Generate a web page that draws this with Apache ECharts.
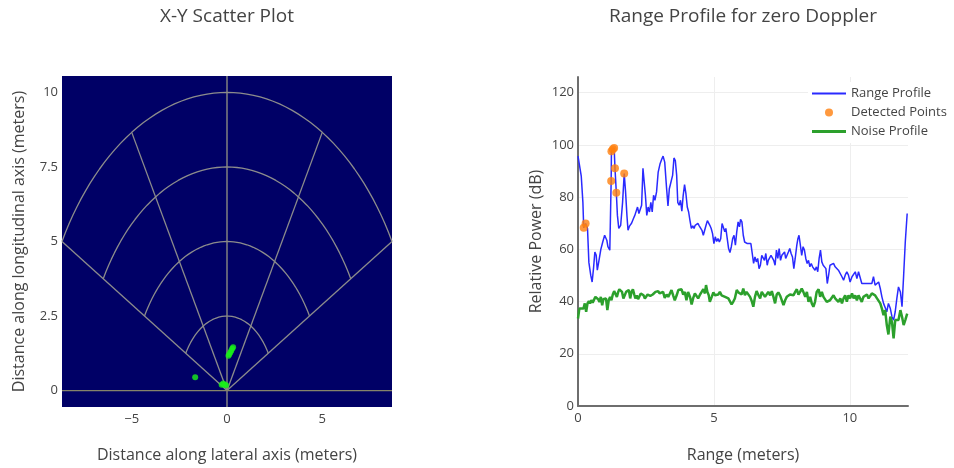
<!DOCTYPE html>
<html>
<head>
<meta charset="utf-8">
<script src="https://cdn.jsdelivr.net/npm/echarts@6/dist/echarts.min.js"></script>
<style>
  html, body { margin: 0; padding: 0; background: #fff; }
  #chart { width: 954px; height: 468px; }
</style>
</head>
<body>
<div id="chart"></div>
<script>
// ---- X-Y scatter: detected object positions (meters) ----
const pointsLateral = [-1.67, -0.28, -0.2, -0.12, -0.05, 0.08, 0.12, 0.17, 0.22, 0.27, 0.32];
const pointsLongitudinal = [0.45, 0.2, 0.24, 0.2, 0.18, 1.17, 1.22, 1.28, 1.34, 1.4, 1.45];

// polar range grid drawn over the sensor field of view
const rangeRings = [2.5, 5, 7.5, 10];
const azimuthSpokes = [-60, -30, 30, 60];
const fovHalfAngle = 60;

const scatterXTicks = [-5, 0, 5];
const scatterYTicks = [0, 2.5, 5, 7.5, 10];

// ---- Range profile for zero Doppler ----
const rangeProfile = [
  [0,95.7],[0.06,95.3],[0.12,88],[0.18,78],[0.21,68.3],[0.28,69.9],[0.35,68],[0.4,55],[0.47,50],[0.52,47.5],
  [0.57,52.6],[0.62,59],[0.67,57.7],[0.71,52],[0.76,55],[0.84,60],[0.91,62.8],[0.98,65.4],[1.06,63.5],[1.1,61],
  [1.17,59.7],[1.22,86.2],[1.23,97.6],[1.28,98.3],[1.33,98.8],[1.36,91.1],[1.41,81.7],[1.45,73],[1.5,68],[1.57,69.2],
  [1.64,78],[1.7,89],[1.75,82],[1.8,73],[1.84,67.3],[1.9,69],[1.97,70],[2.04,71.8],[2.09,73],[2.14,72.4],
  [2.19,76.2],[2.24,73.7],[2.29,74.3],[2.34,76.9],[2.39,91],[2.43,91.5],[2.48,80.7],[2.53,73],[2.58,76.2],[2.63,74.3],
  [2.68,78],[2.73,74.3],[2.78,80.7],[2.83,78.8],[2.89,82],[2.95,89.6],[3.02,92.8],[3.08,94.5],[3.13,95.7],[3.19,93.4],
  [3.26,83.2],[3.31,76.6],[3.36,83.2],[3.43,83.9],[3.48,88.3],[3.53,95],[3.58,94],[3.63,88.3],[3.67,78],[3.72,76.9],
  [3.77,78.8],[3.82,74.6],[3.87,80.7],[3.92,84.8],[3.97,81.3],[4.02,76.2],[4.07,74.3],[4.12,71],[4.17,68],[4.22,69],
  [4.27,68],[4.31,69.2],[4.36,69.5],[4.41,69.9],[4.46,69],[4.51,69.5],[4.56,67.3],[4.61,65.4],[4.66,67.3],[4.71,69.2],
  [4.76,71],[4.81,70.7],[4.85,69.2],[4.9,68],[4.95,66],[5.0,62.2],[5.05,64.8],[5.1,63],[5.15,64.1],[5.2,62.8],
  [5.25,64.1],[5.3,69.9],[5.35,70.2],[5.4,66.7],[5.44,68],[5.49,64.1],[5.54,60.3],[5.59,58.8],[5.64,61],[5.69,64.1],
  [5.74,65.4],[5.79,61.6],[5.84,66.7],[5.89,70.5],[5.94,68.6],[5.98,71.5],[6.03,70.5],[6.08,65.4],[6.13,62.8],[6.18,62.2],
  [6.23,62.2],[6.3,62.6],[6.36,62.2],[6.41,58.4],[6.46,54.6],[6.51,57.1],[6.56,55.2],[6.61,56.5],[6.66,52.6],[6.71,53.9],
  [6.76,57.7],[6.81,57.1],[6.86,55.8],[6.91,58.4],[6.96,53.9],[7.0,55.8],[7.05,56.5],[7.1,57.7],[7.15,58.4],[7.2,55.8],
  [7.25,53.9],[7.3,59.7],[7.35,56.5],[7.4,60.3],[7.45,55.8],[7.5,57.7],[7.55,57.7],[7.6,59],[7.64,56.5],[7.69,57.1],
  [7.74,59],[7.79,60.3],[7.84,58.4],[7.89,57.1],[7.94,52.6],[7.99,56.5],[8.05,61.6],[8.09,64.1],[8.13,65.4],[8.18,61.6],
  [8.23,57.7],[8.28,61],[8.33,59.7],[8.38,56.5],[8.43,54.6],[8.48,55.8],[8.53,53.3],[8.58,54.6],[8.63,53.3],[8.68,52.6],
  [8.72,52],[8.77,53.3],[8.82,51.4],[8.87,56.5],[8.92,59.7],[8.97,55.2],[9.02,53.9],[9.07,53.9],[9.12,52.6],[9.17,46.9],
  [9.22,50.1],[9.27,53.9],[9.34,53.3],[9.4,54.6],[9.46,53.3],[9.52,53.9],[9.58,52],[9.65,51.4],[9.71,49.5],[9.77,48.2],
  [9.83,50.1],[9.89,51.4],[9.95,50.1],[10.01,47.5],[10.08,49.5],[10.14,48.8],[10.2,51.4],[10.26,48.8],[10.32,51.4],[10.38,52],
  [10.44,46.9],[10.5,46.3],[10.57,46.9],[10.63,46.5],[10.69,46.9],[10.75,47.5],[10.81,46.9],[10.87,49.5],[10.93,46.3],[11.0,46.9],
  [11.06,47.5],[11.12,45],[11.18,41.8],[11.24,39.3],[11.3,38.6],[11.36,36.1],[11.42,39.3],[11.49,37.3],[11.55,34.2],[11.61,32.9],
  [11.67,36.1],[11.73,41.2],[11.79,45.6],[11.86,43.7],[11.92,38],[11.98,50.1],[12.04,62.8],[12.11,73.7]
];

const detectedPoints = [
  [0.21,68.3],[0.28,69.9],[1.22,86.2],[1.23,97.6],[1.28,98.3],[1.33,98.8],[1.36,91.1],[1.41,81.7],[1.7,89]
];

const noiseProfile = [
  [0,33.5],[0.05,37.3],[0.12,36.7],[0.2,37.3],[0.25,39.3],[0.3,36.1],[0.35,39.3],[0.4,40.2],[0.44,39.3],[0.49,40.5],
  [0.54,39.6],[0.59,39.9],[0.64,41.8],[0.69,42.4],[0.74,40.9],[0.79,39.9],[0.84,41.8],[0.89,38.6],[0.93,40.9],[0.98,40.2],
  [1.03,41.2],[1.08,36.7],[1.13,40.5],[1.18,41.8],[1.23,40.5],[1.28,42.7],[1.33,44],[1.38,43.7],[1.43,41.8],[1.48,43.7],
  [1.52,44.7],[1.57,45.3],[1.62,43.7],[1.67,41.2],[1.72,42.4],[1.77,43.7],[1.82,43.1],[1.87,44.4],[1.92,41.2],[1.97,43.7],
  [2.02,44.7],[2.07,42.7],[2.11,41.2],[2.16,42.4],[2.21,40.9],[2.26,41.4],[2.31,43.1],[2.36,43.7],[2.41,42.4],[2.46,41.2],
  [2.51,41.4],[2.56,42.7],[2.61,42.4],[2.66,42.2],[2.7,42.7],[2.75,42.7],[2.8,43.1],[2.85,43.7],[2.9,44.4],[2.95,44],
  [3.0,43.1],[3.05,43.7],[3.07,42.7],[3.13,43.7],[3.19,41.4],[3.26,42.7],[3.32,41.8],[3.38,43.1],[3.44,44.4],[3.5,42.4],
  [3.56,40.5],[3.63,42.4],[3.69,44.4],[3.75,44],[3.81,44.7],[3.87,42.7],[3.93,43.7],[3.99,40.5],[4.05,43.7],[4.12,41.8],
  [4.18,38.9],[4.24,41.4],[4.3,43.1],[4.36,42.7],[4.42,41.2],[4.49,42.7],[4.55,43.7],[4.61,44.7],[4.67,43.1],[4.71,46.3],
  [4.76,43.7],[4.81,42.4],[4.85,39.9],[4.92,41.8],[4.98,43.5],[5.04,42.4],[5.1,41.8],[5.16,42.7],[5.22,43.7],[5.28,42.4],
  [5.34,42.7],[5.41,41.8],[5.47,42.4],[5.53,41.2],[5.59,40.5],[5.65,38.9],[5.71,39.9],[5.77,41.2],[5.84,44.4],[5.9,43.5],
  [5.96,43.7],[6.02,42.7],[6.08,45],[6.14,42.4],[6.2,43.7],[6.27,43.7],[6.33,41.8],[6.39,40.2],[6.45,38],[6.51,41.8],
  [6.57,44],[6.64,42.4],[6.7,41.2],[6.76,43.7],[6.82,43.1],[6.88,41.8],[6.94,42.4],[7.0,43.7],[7.07,42.4],[7.13,44],
  [7.19,41.8],[7.25,39.3],[7.31,42.7],[7.37,43.5],[7.44,42.2],[7.5,42.7],[7.56,38.6],[7.62,40.5],[7.68,41.8],[7.74,41.2],
  [7.8,42.7],[7.86,42.2],[7.93,42.4],[7.99,43.7],[8.05,44.7],[8.11,42.7],[8.17,43.7],[8.23,45],[8.29,43.7],[8.36,41.8],
  [8.42,43.7],[8.48,39.9],[8.54,41.8],[8.6,39.3],[8.66,38],[8.72,39.9],[8.78,43.7],[8.85,44.7],[8.91,41.8],[8.97,43.7],
  [9.03,41.8],[9.09,41.2],[9.15,39.9],[9.21,39.3],[9.27,40.5],[9.34,40],[9.4,42.4],[9.46,41.2],[9.52,41.8],[9.58,39.9],
  [9.65,41.2],[9.71,39.3],[9.77,41.2],[9.83,42.4],[9.89,39.9],[9.95,42.4],[10.01,41.2],[10.08,43.1],[10.14,41.2],[10.2,42.4],
  [10.26,40.5],[10.32,42.4],[10.38,41.8],[10.44,39.9],[10.5,41.8],[10.57,41.2],[10.63,42.7],[10.69,41.2],[10.75,41.2],[10.81,43.1],
  [10.87,43.7],[10.93,42.4],[11.0,41.2],[11.06,40.5],[11.12,39.3],[11.18,37.3],[11.24,34.8],[11.3,36.7],[11.36,31],[11.42,27.4],
  [11.49,34.2],[11.55,32.2],[11.61,25.9],[11.67,32.9],[11.73,33.5],[11.79,32.9],[11.86,36.7],[11.92,34.2],[11.98,31],[12.04,32.9],
  [12.11,35.4]
];

const profileXTicks = [0, 5, 10];

// ---- axis extents ----
const scatterXMax = 8.66;
const scatterYMin = -0.55, scatterYMax = 10.55;
const profileXMax = 12.14;
const profileYMax = 126;

const TEXT = '#444';
const FONT = '"Open Sans", "DejaVu Sans", sans-serif';
const GRID_LINE = '#8c8c8c';
const BLUE = '#2a2aff';
const GREEN = '#2ca02c';
const ORANGE = '#ff7f0e';

function deg(a) { return a * Math.PI / 180; }

// arcs and spokes of the field-of-view grid
const polarGridSeries = [];
rangeRings.forEach(function (r) {
  const pts = [];
  for (let a = -fovHalfAngle; a <= fovHalfAngle; a += 2) {
    pts.push([r * Math.sin(deg(a)), r * Math.cos(deg(a))]);
  }
  polarGridSeries.push({
    type: 'line', xAxisIndex: 0, yAxisIndex: 0, data: pts,
    symbol: 'none', silent: true, smooth: false,
    lineStyle: { color: GRID_LINE, width: 1.3 }, z: 1
  });
});
const outerRing = rangeRings[rangeRings.length - 1];
azimuthSpokes.forEach(function (a) {
  polarGridSeries.push({
    type: 'line', xAxisIndex: 0, yAxisIndex: 0,
    data: [[0, 0], [outerRing * Math.sin(deg(a)), outerRing * Math.cos(deg(a))]],
    symbol: 'none', silent: true,
    lineStyle: { color: GRID_LINE, width: 1.3 }, z: 1
  });
});
// zero lines of both axes
polarGridSeries.push({
  type: 'line', xAxisIndex: 0, yAxisIndex: 0,
  data: [[0, scatterYMin], [0, scatterYMax]],
  symbol: 'none', silent: true, lineStyle: { color: '#8a8a82', width: 1.4 }, z: 1
});
polarGridSeries.push({
  type: 'line', xAxisIndex: 0, yAxisIndex: 0,
  data: [[-scatterXMax, 0], [scatterXMax, 0]],
  symbol: 'none', silent: true, lineStyle: { color: '#85836a', width: 1.4 }, z: 1
});

const scatterPoints = pointsLateral.map(function (x, i) { return [x, pointsLongitudinal[i]]; });

function minusFmt(v) { return v < 0 ? '\u2212' + Math.abs(v) : String(v); }

const chart = echarts.init(document.getElementById('chart'), null, { renderer: 'canvas' });

chart.setOption({
  animation: false,
  backgroundColor: '#fff',
  textStyle: { fontFamily: FONT },
  graphic: [
    { type: 'text', x: 227, y: 7, style: { text: 'X-Y Scatter Plot', font: '19px ' + FONT, fill: TEXT, align: 'center', verticalAlign: 'top' } },
    { type: 'text', x: 743, y: 7, style: { text: 'Range Profile for zero Doppler', font: '19px ' + FONT, fill: TEXT, align: 'center', verticalAlign: 'top' } }
  ],
  grid: [
    { left: 62, top: 76, width: 330, height: 331, show: true, backgroundColor: '#000066', borderWidth: 0 },
    { left: 578, top: 77, width: 330, height: 329, show: false }
  ],
  legend: {
    orient: 'vertical', left: 808, top: 82, padding: [4, 6, 4, 4],
    backgroundColor: '#fff', itemWidth: 34, itemHeight: 8, itemGap: 4,
    textStyle: { color: TEXT, fontSize: 13, fontFamily: FONT, lineHeight: 15 },
    data: [
      { name: 'Range Profile', icon: 'path://M0,0h32v2h-32z', itemStyle: { color: BLUE } },
      { name: 'Detected Points', icon: 'circle' },
      { name: 'Noise Profile', icon: 'path://M0,0h32v3h-32z', itemStyle: { color: GREEN } }
    ]
  },
  xAxis: [
    {
      gridIndex: 0, type: 'value', min: -scatterXMax, max: scatterXMax,
      axisLine: { show: false }, axisTick: { show: false }, splitLine: { show: false },
      axisLabel: { customValues: scatterXTicks, formatter: minusFmt, color: TEXT, fontSize: 13, margin: 6 },
      name: 'Distance along lateral axis (meters)', nameLocation: 'middle', nameGap: 40,
      nameTextStyle: { color: TEXT, fontSize: 16 }
    },
    {
      gridIndex: 1, type: 'value', min: 0, max: profileXMax, interval: 5,
      axisLine: { show: true, onZero: false, lineStyle: { color: '#6e6e6e', width: 2 } },
      axisTick: { show: false },
      splitLine: { show: true, showMaxLine: false, lineStyle: { color: '#eeeeee', width: 1 } },
      axisLabel: { customValues: profileXTicks, color: TEXT, fontSize: 13, margin: 6 },
      name: 'Range (meters)', nameLocation: 'middle', nameGap: 41,
      nameTextStyle: { color: TEXT, fontSize: 16 }
    }
  ],
  yAxis: [
    {
      gridIndex: 0, type: 'value', min: scatterYMin, max: scatterYMax,
      axisLine: { show: false }, axisTick: { show: false }, splitLine: { show: false },
      axisLabel: { customValues: scatterYTicks, color: TEXT, fontSize: 13, margin: 4 },
      name: 'Distance along longitudinal axis (meters)', nameLocation: 'middle', nameGap: 35,
      nameTextStyle: { color: TEXT, fontSize: 16 }
    },
    {
      gridIndex: 1, type: 'value', min: 0, max: profileYMax, interval: 20,
      axisLine: { show: true, onZero: false, lineStyle: { color: '#6e6e6e', width: 2 } },
      axisTick: { show: false },
      splitLine: { show: true, showMaxLine: false, lineStyle: { color: '#eeeeee', width: 1 } },
      axisLabel: { showMaxLabel: false, color: TEXT, fontSize: 13, margin: 4 },
      name: 'Relative Power (dB)', nameLocation: 'middle', nameGap: 34,
      nameTextStyle: { color: TEXT, fontSize: 16 }
    }
  ],
  series: polarGridSeries.concat([
    {
      name: 'Detections', type: 'scatter', xAxisIndex: 0, yAxisIndex: 0,
      data: scatterPoints, symbolSize: 6,
      itemStyle: { color: '#19f019' }, z: 3
    },
    {
      name: 'Range Profile', type: 'line', xAxisIndex: 1, yAxisIndex: 1,
      data: rangeProfile, symbol: 'none', showSymbol: false,
      lineStyle: { color: BLUE, width: 1.5 }, itemStyle: { color: BLUE }, z: 2
    },
    {
      name: 'Detected Points', type: 'scatter', xAxisIndex: 1, yAxisIndex: 1,
      data: detectedPoints, symbolSize: 8,
      itemStyle: { color: ORANGE }, z: 3
    },
    {
      name: 'Noise Profile', type: 'line', xAxisIndex: 1, yAxisIndex: 1,
      data: noiseProfile, symbol: 'none', showSymbol: false,
      lineStyle: { color: GREEN, width: 2.5 }, itemStyle: { color: GREEN }, z: 4
    }
  ])
});
</script>
</body>
</html>
